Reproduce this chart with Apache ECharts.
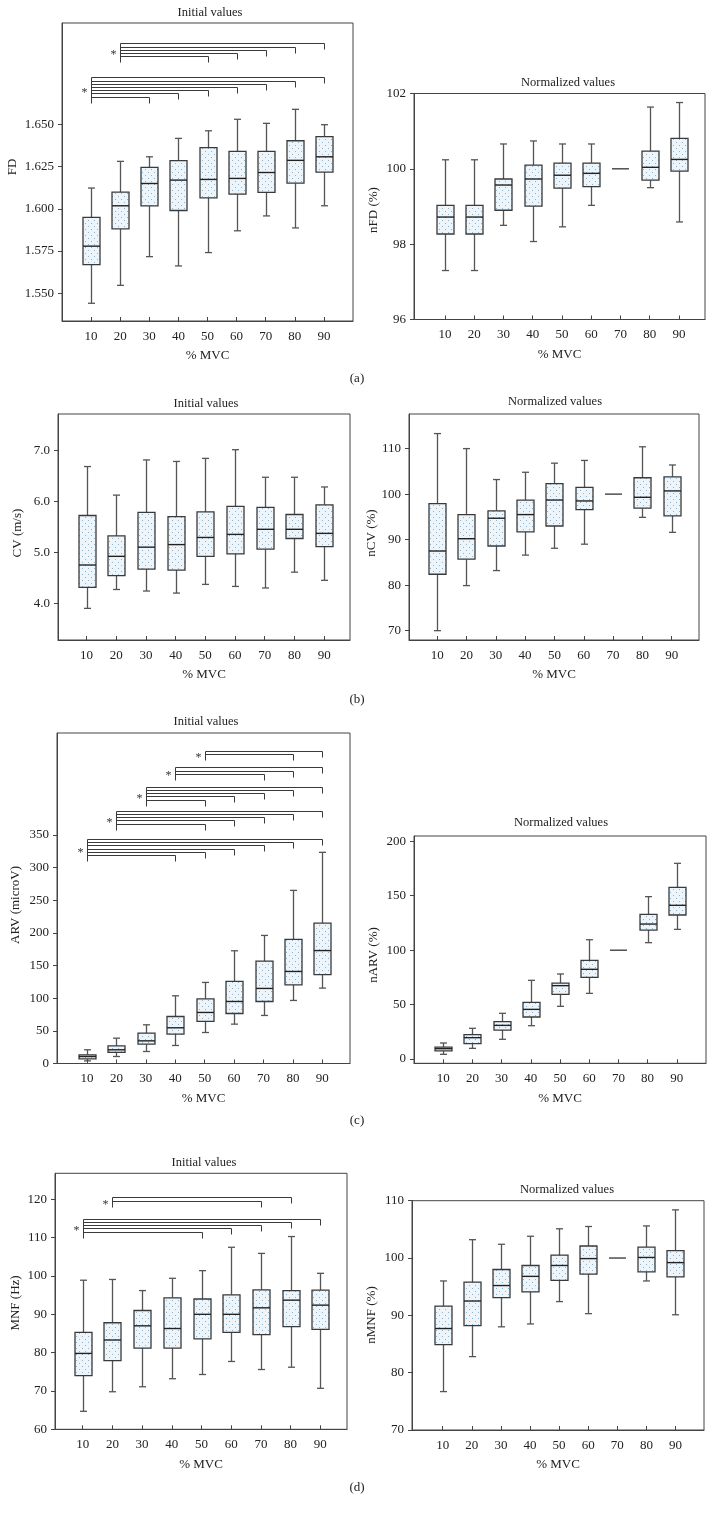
<!DOCTYPE html>
<html>
<head>
<meta charset="utf-8">
<script src="https://cdn.jsdelivr.net/npm/echarts@6/dist/echarts.min.js"></script>
<style>
html,body{margin:0;padding:0;background:#fff;}
#chart{width:714px;height:1514px;}
</style>
</head>
<body>
<div id="chart"></div>
<script>
// ---------------- DATA ----------------
const mvc = [10, 20, 30, 40, 50, 60, 70, 80, 90];
// each row: [min, Q1, median, Q3, max]
const fdInitial = [
  [1.5441, 1.5670, 1.5779, 1.5949, 1.6123],
  [1.5547, 1.5881, 1.6018, 1.6099, 1.6281],
  [1.5717, 1.6018, 1.6150, 1.6245, 1.6308],
  [1.5662, 1.5990, 1.6170, 1.6285, 1.6417],
  [1.5741, 1.6065, 1.6174, 1.6362, 1.6462],
  [1.5870, 1.6087, 1.6180, 1.6340, 1.6530],
  [1.5958, 1.6097, 1.6215, 1.6340, 1.6506],
  [1.5887, 1.6152, 1.6287, 1.6403, 1.6589],
  [1.6018, 1.6217, 1.6308, 1.6427, 1.6498]
];
const fdNormalized = [
  [97.30, 98.27, 98.72, 99.03, 100.24],
  [97.30, 98.27, 98.72, 99.03, 100.24],
  [98.50, 98.90, 99.57, 99.73, 100.66],
  [98.07, 99.01, 99.73, 100.10, 100.74],
  [98.46, 99.49, 99.83, 100.15, 100.66],
  [99.03, 99.53, 99.88, 100.15, 100.66],
  [100, 100, 100, 100, 100],
  [99.50, 99.70, 100.04, 100.47, 101.64],
  [98.59, 99.94, 100.25, 100.81, 101.76]
];
const cvInitial = [
  [3.90, 4.31, 4.75, 5.72, 6.68],
  [4.27, 4.54, 4.92, 5.32, 6.12],
  [4.24, 4.67, 5.10, 5.78, 6.81],
  [4.20, 4.65, 5.15, 5.70, 6.78],
  [4.37, 4.92, 5.29, 5.79, 6.84],
  [4.33, 4.97, 5.35, 5.90, 7.01],
  [4.30, 5.06, 5.45, 5.88, 6.47],
  [4.61, 5.27, 5.45, 5.74, 6.47],
  [4.45, 5.11, 5.37, 5.93, 6.28]
];
const cvNormalized = [
  [70.0, 82.4, 87.5, 97.9, 113.3],
  [79.9, 85.7, 90.2, 95.5, 110.0],
  [83.2, 88.6, 94.7, 96.3, 103.2],
  [86.6, 91.7, 95.5, 98.7, 104.8],
  [88.1, 93.0, 98.7, 102.3, 106.8],
  [89.0, 96.6, 98.5, 101.5, 107.4],
  [100, 100, 100, 100, 100],
  [94.9, 96.9, 99.3, 103.6, 110.4],
  [91.6, 95.2, 100.7, 103.8, 106.4]
];
const arvInitial = [
  [4.0, 7.2, 10.7, 13.3, 21.0],
  [10.7, 16.9, 21.0, 27.0, 38.8],
  [18.4, 29.6, 34.7, 46.5, 59.3],
  [27.6, 45.0, 54.7, 72.0, 103.7],
  [47.5, 64.4, 78.2, 99.1, 124.2],
  [60.3, 76.6, 95.0, 125.7, 172.7],
  [73.6, 95.0, 115.0, 156.9, 196.2],
  [96.6, 120.6, 141.0, 190.1, 265.2],
  [115.5, 136.0, 173.0, 215.0, 323.5]
];
const arvNormalized = [
  [4.3, 7.4, 9.5, 11.0, 14.7],
  [9.8, 14.1, 19.6, 22.4, 28.2],
  [18.1, 26.6, 30.9, 34.3, 42.0],
  [30.6, 38.6, 45.6, 52.1, 72.3],
  [48.4, 59.4, 67.4, 69.8, 78.1],
  [60.3, 75.0, 82.4, 90.7, 109.6],
  [100, 100, 100, 100, 100],
  [106.9, 118.5, 124.0, 132.9, 149.2],
  [119.1, 132.3, 141.2, 157.7, 179.8]
];
const mnfInitial = [
  [64.7, 74.0, 79.8, 85.3, 98.9],
  [69.8, 77.9, 83.3, 87.8, 99.1],
  [71.1, 81.2, 87.0, 91.0, 96.2],
  [73.2, 81.2, 86.3, 94.3, 99.4],
  [74.3, 83.6, 90.0, 94.0, 101.4],
  [77.7, 85.3, 90.0, 95.1, 107.5],
  [75.6, 84.7, 91.7, 96.4, 105.9],
  [76.2, 86.8, 93.7, 96.2, 110.3],
  [70.7, 86.1, 92.4, 96.3, 100.7]
];
const mnfNormalized = [
  [76.7, 84.9, 87.7, 91.6, 96.0],
  [82.8, 88.2, 92.5, 95.8, 103.2],
  [88.0, 93.1, 95.2, 98.0, 102.4],
  [88.5, 94.1, 96.8, 98.7, 103.8],
  [92.4, 96.1, 98.7, 100.5, 105.1],
  [90.3, 97.2, 99.9, 102.1, 105.5],
  [100, 100, 100, 100, 100],
  [96.0, 97.6, 100.1, 101.9, 105.6],
  [90.1, 96.7, 99.2, 101.3, 108.4]
];
// tick labels
const fdTicks = [1.550, 1.575, 1.600, 1.625, 1.650];
const nfdTicks = [96, 98, 100, 102];
const cvTicks = [4.0, 5.0, 6.0, 7.0];
const ncvTicks = [70, 80, 90, 100, 110];
const arvTicks = [0, 50, 100, 150, 200, 250, 300, 350];
const narvTicks = [0, 50, 100, 150, 200];
const mnfTicks = [60, 70, 80, 90, 100, 110, 120];
const nmnfTicks = [70, 80, 90, 100, 110];
// significant comparisons (*): reference level vs levels
const sigFD = [{ref: 20, vs: [90, 80, 70, 60, 50]}, {ref: 10, vs: [90, 80, 70, 60, 50, 40, 30]}];
const sigARV = [
  {ref: 50, vs: [90, 80]},
  {ref: 40, vs: [90, 80, 70]},
  {ref: 30, vs: [90, 80, 70, 60, 50]},
  {ref: 20, vs: [90, 80, 70, 60, 50]},
  {ref: 10, vs: [90, 80, 70, 60, 50, 40]}
];
const sigMNF = [{ref: 20, vs: [80, 70]}, {ref: 10, vs: [90, 80, 70, 60, 50]}];

// ---------------- LAYOUT / STYLE ----------------
const SERIF = '"Liberation Serif", "DejaVu Serif", serif';
const BOX_W = 17, CAP_W = 7;
const LINE_SP = 3.2, DROP = 6;

function makePattern() {
  const c = document.createElement('canvas');
  c.width = 6; c.height = 6;
  const g = c.getContext('2d');
  g.fillStyle = '#eef5fa'; g.fillRect(0, 0, 6, 6);
  g.fillStyle = '#8fb2ca';
  g.fillRect(1, 1, 1, 1); g.fillRect(4, 4, 1, 1);
  return c;
}
const pattern = {image: makePattern(), repeat: 'repeat'};

const panels = [
  {data: fdInitial, ticks: fdTicks, fmt: v => v.toFixed(3), grid: [62, 23, 291, 298], x: [0, 100], y: [1.5336, 1.7100],
   title: 'Initial values', titlePos: [210, 13], yName: 'FD', yNamePos: [13, 167], sig: sigFD, sigOff: [20.3, 54.3]},
  {data: fdNormalized, ticks: nfdTicks, fmt: v => String(v), grid: [414, 93.5, 291, 226], x: [-0.6, 98.9], y: [96, 102],
   title: 'Normalized values', titlePos: [568, 83], yName: 'nFD (%)', yNamePos: [374, 210]},
  {data: cvInitial, ticks: cvTicks, fmt: v => v.toFixed(1), grid: [58, 414, 292, 226], x: [0.4, 98.7], y: [3.28, 7.71],
   title: 'Initial values', titlePos: [206, 404], yName: 'CV (m/s)', yNamePos: [18, 533]},
  {data: cvNormalized, ticks: ncvTicks, fmt: v => String(v), grid: [409, 414, 290, 226], x: [0.4, 99.3], y: [67.95, 117.6],
   title: 'Normalized values', titlePos: [555, 402], yName: 'nCV (%)', yNamePos: [372, 533]},
  {data: arvInitial, ticks: arvTicks, fmt: v => String(v), grid: [57, 733, 293, 330.5], x: [-0.2, 99.4], y: [0, 506.3],
   title: 'Initial values', titlePos: [206, 722], yName: 'ARV (microV)', yNamePos: [16, 905], sig: sigARV, sigOff: [17.7, 34.4, 53.7, 77.7, 106]},
  {data: arvNormalized, ticks: narvTicks, fmt: v => String(v), grid: [414, 836, 292, 227.3], x: [0, 100], y: [-3.95, 204.9],
   title: 'Normalized values', titlePos: [561, 823], yName: 'nARV (%)', yNamePos: [374, 955]},
  {data: mnfInitial, ticks: mnfTicks, fmt: v => String(v), grid: [55, 1173.3, 292, 256], x: [0.66, 99.0], y: [60, 126.8],
   title: 'Initial values', titlePos: [204, 1163], yName: 'MNF (Hz)', yNamePos: [16, 1303], sig: sigMNF, sigOff: [24, 45.4]},
  {data: mnfNormalized, ticks: nmnfTicks, fmt: v => String(v), grid: [412, 1200.7, 292, 229.3], x: [-0.55, 99.8], y: [70, 110],
   title: 'Normalized values', titlePos: [567, 1190], yName: 'nMNF (%)', yNamePos: [372, 1315]}
];
const panelLabels = [['(a)', 379], ['(b)', 700], ['(c)', 1121], ['(d)', 1488]];

function boxRender(params, api) {
  const x = api.value(0);
  const lo = api.coord([x, api.value(1)]);
  const q1 = api.coord([x, api.value(2)]);
  const md = api.coord([x, api.value(3)]);
  const q3 = api.coord([x, api.value(4)]);
  const hi = api.coord([x, api.value(5)]);
  const cx = Math.round(lo[0]) + 0.5;
  const hw = BOX_W / 2, cw = CAP_W / 2;
  if (Math.abs(hi[1] - lo[1]) < 0.5) {
    // degenerate (reference level): a single horizontal line
    return {type: 'line', shape: {x1: cx - hw, y1: md[1], x2: cx + hw, y2: md[1]}, style: {stroke: '#222', lineWidth: 1.2}};
  }
  const wStyle = {stroke: '#555', lineWidth: 1.3};
  return {
    type: 'group',
    children: [
      {type: 'line', shape: {x1: cx, y1: hi[1], x2: cx, y2: q3[1]}, style: wStyle},
      {type: 'line', shape: {x1: cx, y1: q1[1], x2: cx, y2: lo[1]}, style: wStyle},
      {type: 'line', shape: {x1: cx - cw, y1: hi[1], x2: cx + cw, y2: hi[1]}, style: wStyle},
      {type: 'line', shape: {x1: cx - cw, y1: lo[1], x2: cx + cw, y2: lo[1]}, style: wStyle},
      {type: 'rect', shape: {x: cx - hw, y: q3[1], width: BOX_W, height: q1[1] - q3[1]},
       style: {fill: pattern, stroke: '#3a3a3a', lineWidth: 1.3}},
      {type: 'line', shape: {x1: cx - hw, y1: md[1], x2: cx + hw, y2: md[1]}, style: {stroke: '#222', lineWidth: 1.4}}
    ]
  };
}

function bracketRender(offsets) {
  return function (params, api) {
    const ref = api.value(0), to = api.value(1), li = api.value(2), n = api.value(3), gi = api.value(4);
    const top = params.coordSys.y;
    const y0 = top + offsets[gi];
    const y = Math.round(y0 + li * LINE_SP) + 0.5;
    const xl = Math.round(api.coord([ref, 0])[0]) + 0.5;
    const xr = Math.round(api.coord([to, 0])[0]) + 0.5;
    const st = {stroke: '#3a3a3a', lineWidth: 1, fill: null};
    const children = [
      {type: 'polyline', shape: {points: [[xl, y], [xr, y], [xr, y + DROP]]}, style: st}
    ];
    if (li === 0) {
      const yEnd = Math.round(y0 + (n - 1) * LINE_SP) + 0.5 + DROP;
      children.push({type: 'line', shape: {x1: xl, y1: y, x2: xl, y2: yEnd}, style: st});
      children.push({type: 'text', style: {text: '*', x: xl - 7, y: (y + yEnd) / 2 + 2, font: '12px ' + SERIF,
        fill: '#333', align: 'center', verticalAlign: 'middle'}});
    }
    return {type: 'group', children};
  };
}

// ---------------- OPTION ----------------
const grid = [], xAxis = [], yAxis = [], series = [], graphic = [];
panels.forEach((p, i) => {
  grid.push({left: p.grid[0], top: p.grid[1], width: p.grid[2], height: p.grid[3], show: true,
    borderColor: '#444', borderWidth: 1, backgroundColor: 'transparent'});
  xAxis.push({
    gridIndex: i, type: 'value', min: p.x[0], max: p.x[1],
    axisLine: {onZero: false, lineStyle: {color: '#444', width: 1}},
    axisTick: {inside: true, length: 4, customValues: mvc, lineStyle: {color: '#444'}},
    axisLabel: {customValues: mvc, margin: 9, fontFamily: SERIF, fontSize: 13, color: '#222', formatter: v => String(v)},
    splitLine: {show: false}
  });
  yAxis.push({
    gridIndex: i, type: 'value', min: p.y[0], max: p.y[1],
    axisLine: {onZero: false, lineStyle: {color: '#444', width: 1}},
    axisTick: {length: 4, customValues: p.ticks, lineStyle: {color: '#444'}},
    axisLabel: {customValues: p.ticks, margin: 8, fontFamily: SERIF, fontSize: 13, color: '#222', formatter: p.fmt},
    splitLine: {show: false}
  });
  series.push({
    type: 'custom', xAxisIndex: i, yAxisIndex: i, renderItem: boxRender,
    encode: {x: 0, y: [1, 2, 3, 4, 5]},
    data: mvc.map((m, k) => [m].concat(p.data[k]))
  });
  if (p.sig) {
    const rows = [];
    p.sig.forEach((g, gi) => g.vs.forEach((v, li) => rows.push([g.ref, v, li, g.vs.length, gi])));
    series.push({type: 'custom', xAxisIndex: i, yAxisIndex: i, renderItem: bracketRender(p.sigOff),
      encode: {x: 0, y: 2}, data: rows, silent: true});
  }
  graphic.push({type: 'text', x: p.titlePos[0], y: p.titlePos[1],
    style: {text: p.title, font: '12.5px ' + SERIF, fill: '#222', align: 'center', verticalAlign: 'middle'}});
  graphic.push({type: 'text', x: p.yNamePos[0], y: p.yNamePos[1], rotation: Math.PI / 2,
    style: {text: p.yName, font: '13px ' + SERIF, fill: '#222', align: 'center', verticalAlign: 'middle'}});
  graphic.push({type: 'text', x: p.grid[0] + p.grid[2] / 2, y: p.grid[1] + p.grid[3] + 35,
    style: {text: '% MVC', font: '13px ' + SERIF, fill: '#222', align: 'center', verticalAlign: 'middle'}});
});
panelLabels.forEach(l => graphic.push({type: 'text', x: 357, y: l[1],
  style: {text: l[0], font: '13px ' + SERIF, fill: '#222', align: 'center', verticalAlign: 'middle'}}));

const chart = echarts.init(document.getElementById('chart'), null, {renderer: 'canvas'});
chart.setOption({animation: false, backgroundColor: '#fff', grid, xAxis, yAxis, series, graphic});
</script>
</body>
</html>
